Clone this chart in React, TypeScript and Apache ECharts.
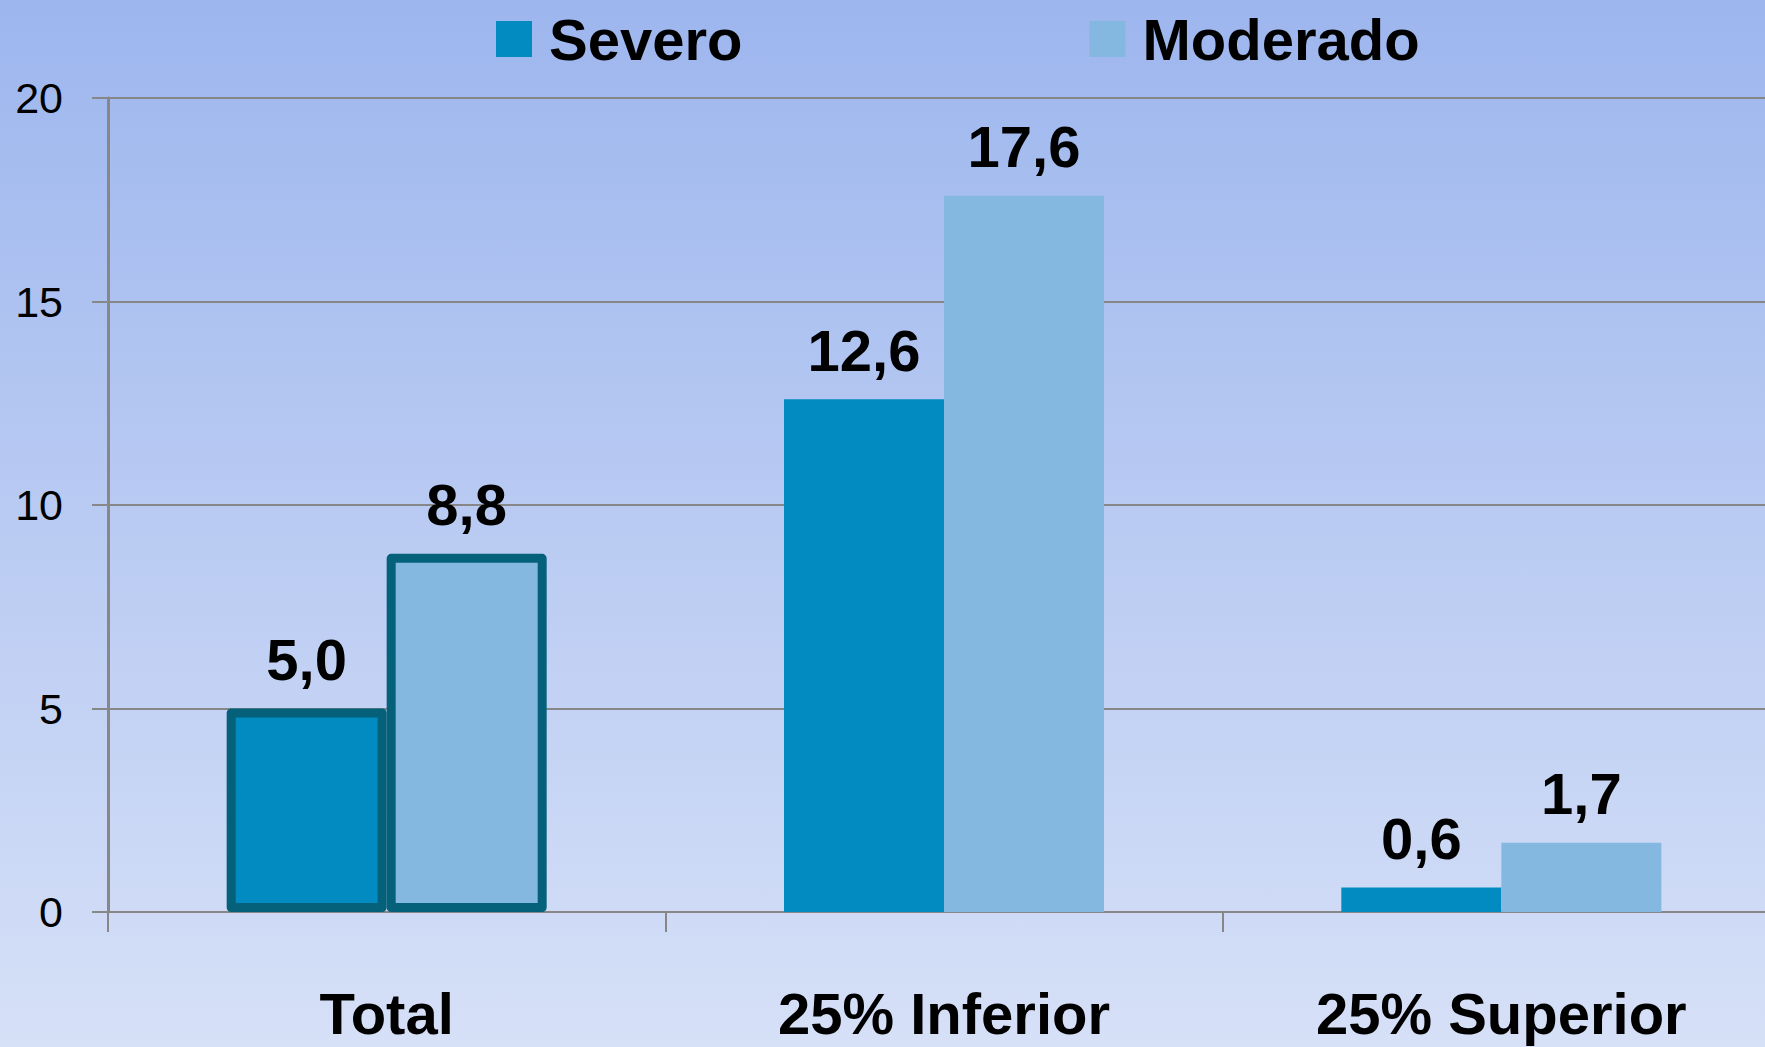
import React, { useEffect, useRef } from "react";
import * as echarts from "echarts";

const categories = ["Total", "25% Inferior", "25% Superior"];
const severo = [5.0, 12.6, 0.6];
const moderado = [8.8, 17.6, 1.7];
const seriesNames = ["Severo", "Moderado"];
const yTicks = { min: 0, max: 20, interval: 5 };

const SEVERO_COLOR = "#018BC0";
const MODERADO_COLOR = "#85B8E0";
const BORDER_COLOR = "#05607A";
const GRID_COLOR = "#878787";
const FONT = "'Liberation Sans', Arial, sans-serif";

export default function App() {
  const ref = useRef<HTMLDivElement>(null);
  useEffect(() => {
    if (!ref.current) return;
    const chart = echarts.init(ref.current, null, { renderer: "svg" });
    const fmt = (p: any) => Number(p.value).toFixed(1).replace(".", ",");
    const mkData = (arr: number[]) =>
      arr.map((v, i) =>
        i === 0
          ? {
              value: v,
              itemStyle: { borderColor: BORDER_COLOR, borderWidth: 9, borderJoin: "round" },
            }
          : { value: v }
      );
    const label = {
      show: true,
      position: "top",
      distance: 20,
      formatter: fmt,
      fontFamily: FONT,
      fontWeight: "bold",
      fontSize: 58,
      color: "#000",
    };
    chart.setOption({
      animation: false,
      backgroundColor: {
        type: "linear",
        x: 0,
        y: 0,
        x2: 0,
        y2: 1,
        colorStops: [
          { offset: 0, color: "#9DB6EE" },
          { offset: 1, color: "#D6E0F7" },
        ],
      },
      legend: {
        left: 491,
        top: 5,
        itemWidth: 36,
        itemHeight: 36,
        itemGap: 347,
        icon: "rect",
        data: seriesNames,
        textStyle: {
          fontFamily: FONT,
          fontWeight: "bold",
          fontSize: 58,
          color: "#000",
          padding: [0, 0, 0, 12],
        },
      },
      grid: { left: 108, top: 98, bottom: 135, right: 0 },
      xAxis: {
        type: "category",
        data: categories,
        axisLine: { show: true, lineStyle: { color: GRID_COLOR, width: 2 } },
        axisTick: { show: true, length: 20, lineStyle: { color: GRID_COLOR, width: 2 } },
        axisLabel: {
          margin: 72,
          fontFamily: FONT,
          fontWeight: "bold",
          fontSize: 58,
          color: "#000",
        },
      },
      yAxis: {
        type: "value",
        min: yTicks.min,
        max: yTicks.max,
        interval: yTicks.interval,
        axisLine: { show: true, lineStyle: { color: GRID_COLOR, width: 3 } },
        axisTick: { show: true, length: 16, lineStyle: { color: GRID_COLOR, width: 2 } },
        splitLine: { show: true, lineStyle: { color: GRID_COLOR, width: 2 } },
        axisLabel: {
          margin: 45,
          fontFamily: FONT,
          fontSize: 43,
          color: "#000",
        },
      },
      series: [
        {
          name: seriesNames[0],
          type: "bar",
          data: mkData(severo),
          barWidth: 160,
          barGap: "0%",
          itemStyle: { color: SEVERO_COLOR },
          label,
        },
        {
          name: seriesNames[1],
          type: "bar",
          data: mkData(moderado),
          barWidth: 160,
          barGap: "0%",
          itemStyle: { color: MODERADO_COLOR },
          label,
        },
      ],
    });
    return () => chart.dispose();
  }, []);
  return (
    <div style={{ position: "fixed", left: 0, top: 0, width: 1765, height: 1047, overflow: "hidden" }}>
      <div ref={ref} style={{ position: "absolute", left: 0, top: 0, width: 1780, height: 1047 }} />
    </div>
  );
}
